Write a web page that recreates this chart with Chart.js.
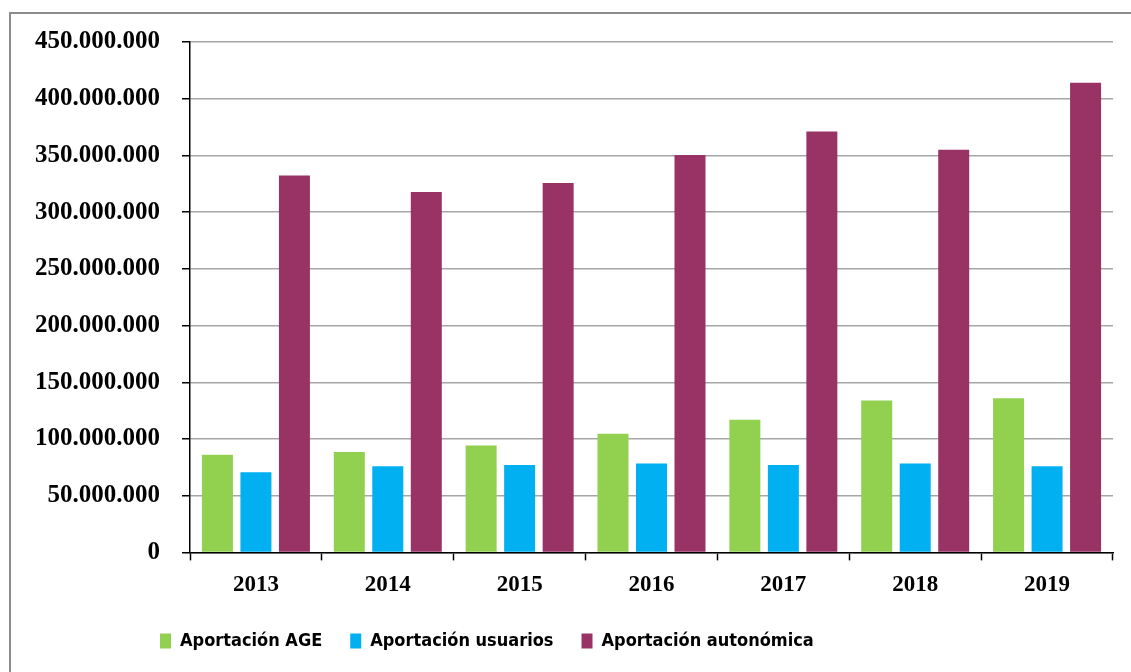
<!DOCTYPE html>
<html>
<head>
<meta charset="utf-8">
<script src="https://cdn.jsdelivr.net/npm/chart.js@4.4.1/dist/chart.umd.min.js"></script>
<style>
    html, body { margin: 0; padding: 0; background: #fff; }
    body { width: 1131px; height: 672px; overflow: hidden; position: relative; }
    #frame {
        position: absolute; left: 9px; top: 12px;
        width: 1300px; height: 800px;
        border: 2px solid #8c8c8c; box-sizing: border-box;
    }
    #wrap { position: absolute; left: 0; top: 0; width: 1131px; height: 672px; }
</style>
</head>
<body>
<div id="frame"></div>
<div id="wrap"><canvas id="chart"></canvas></div>
<script>
// Data (euros)
const years = ['2013', '2014', '2015', '2016', '2017', '2018', '2019'];
const aportacionAGE = [86200000, 88600000, 94200000, 104500000, 116900000, 133900000, 136000000];
const aportacionUsuarios = [70700000, 76000000, 77100000, 78300000, 77100000, 78300000, 76000000];
const aportacionAutonomica = [332400000, 317700000, 325600000, 350300000, 371000000, 355100000, 414000000];

const yMax = 450000000;
const yStep = 50000000;

const COLORS = {
    age: '#92D050',        // green
    usuarios: '#00B0F0',   // blue
    autonomica: '#993366'  // purple
};

// 450000000 -> "450.000.000"
function formatThousands(v) {
    return String(v).replace(/\B(?=(\d{3})+(?!\d))/g, '.');
}

// Excel-style legend sits left of centre, shift it after layout
const legendShift = {
    id: 'legendShift',
    afterLayout(chart) {
        const dx = 122, dy = -6;
        chart.legend.left += dx;
        chart.legend.right += dx;
        chart.legend.top += dy;
        chart.legend.bottom += dy;
    }
};

const serif = "'Liberation Serif', 'Times New Roman', serif";

new Chart(document.getElementById('chart'), {
    type: 'bar',
    data: {
        labels: years,
        datasets: [
            { label: 'Aportación AGE', data: aportacionAGE, backgroundColor: COLORS.age },
            { label: 'Aportación usuarios', data: aportacionUsuarios, backgroundColor: COLORS.usuarios },
            { label: 'Aportación autonómica', data: aportacionAutonomica, backgroundColor: COLORS.autonomica }
        ]
    },
    plugins: [legendShift],
    options: {
        responsive: true,
        maintainAspectRatio: false,
        animation: false,
        datasets: {
            bar: { categoryPercentage: 0.876, barPercentage: 0.805 }
        },
        layout: {
            padding: { left: 10, right: 18, top: 42, bottom: 6 }
        },
        scales: {
            x: {
                grid: {
                    drawOnChartArea: false,
                    drawTicks: true,
                    tickLength: 8,
                    tickColor: '#000',
                    tickWidth: 1.5
                },
                border: { color: '#000', width: 1.5 },
                ticks: {
                    color: '#000',
                    padding: 11,
                    font: { family: serif, size: 23, weight: 'bold' }
                }
            },
            y: {
                min: 0,
                max: yMax,
                afterFit(scale) { scale.width = 180; },
                grid: {
                    color: '#a6a6a6',
                    lineWidth: 1.5,
                    tickLength: 8,
                    tickColor: '#000',
                    tickWidth: 1.5
                },
                border: { color: '#000', width: 1.5 },
                ticks: {
                    stepSize: yStep,
                    color: '#000',
                    padding: 22,
                    font: { family: serif, size: 25, weight: 'bold' },
                    callback: function(value) {
                        return formatThousands(value);
                    }
                }
            }
        },
        plugins: {
            legend: {
                display: true,
                position: 'bottom',
                align: 'start',
                labels: {
                    boxWidth: 11,
                    boxHeight: 15,
                    padding: 28,
                    color: '#000',
                    font: { family: "'DejaVu Sans Condensed', Lato, sans-serif", size: 18, weight: 'bold' }
                }
            },
            tooltip: { enabled: false }
        }
    }
});
</script>
</body>
</html>
